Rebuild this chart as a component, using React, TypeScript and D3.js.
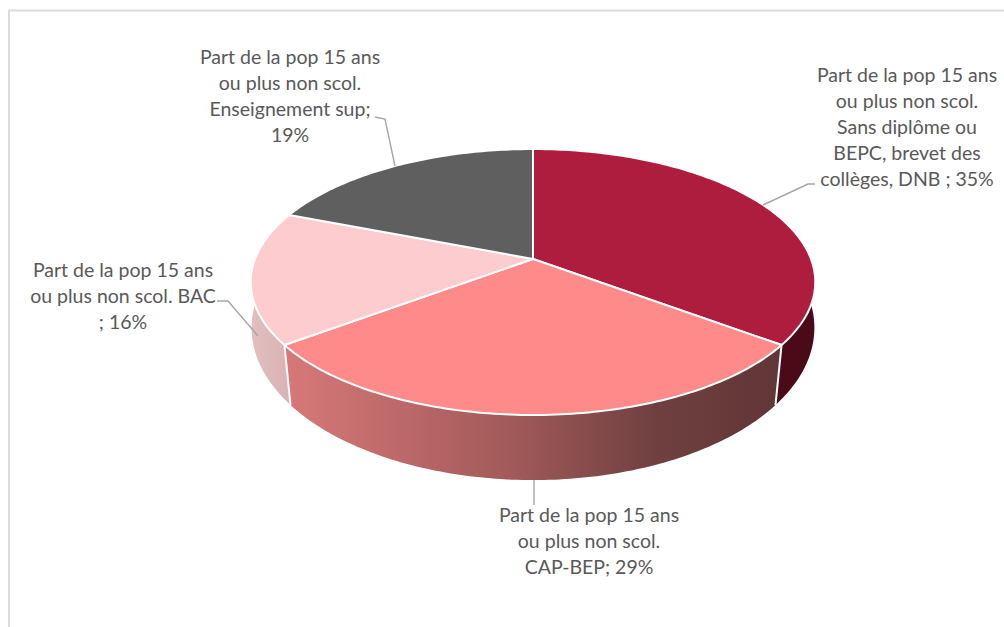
import React from "react";
import * as d3 from "d3";

const categories = ["Sans diplôme ou BEPC, brevet des collèges, DNB", "CAP-BEP", "BAC", "Enseignement sup"];
const values = [35.2, 29.6, 16.1, 19.1];
const topColors = ["#AE1C3E", "#FE8A8A", "#FDCCCE", "#5F5F5F"];
const labelLines = [
  ["Part de la pop 15 ans", "ou plus non scol.", "Sans diplôme ou", "BEPC, brevet des", "collèges, DNB ; 35%"],
  ["Part de la pop 15 ans", "ou plus non scol.", "CAP-BEP; 29%"],
  ["Part de la pop 15 ans", "ou plus non scol. BAC", "; 16%"],
  ["Part de la pop 15 ans", "ou plus non scol.", "Enseignement sup;", "19%"],
];
const labelAnchors = [
  { x: 907, y: 82 },
  { x: 589, y: 522 },
  { x: 123, y: 277 },
  { x: 290, y: 64 },
];
const leaders: [number, number][][] = [
  [[763, 205], [808, 184], [815, 184]],
  [[534, 480], [534, 505]],
  [[258, 336], [228, 301], [217, 301]],
  [[395, 166], [385, 119], [375, 117]],
];

const topRim = { cx: 533, cy: 259, a: 278, b: 129, k: 0.173 };
const lowRim = { cx: 533, cy: 308, a: 279, b: 149.7, k: 0.13 };
type Rim = typeof topRim;

const project = (r: Rim, t: number): [number, number] => {
  const u = Math.sin(t), v = Math.cos(t), w = 1 + r.k * v;
  return [r.cx + (r.a * u) / w, r.cy - (r.b * v) / w];
};
const samples = (t0: number, t1: number) => {
  const n = Math.max(2, Math.ceil(Math.abs(t1 - t0) * 60));
  return d3.range(n + 1).map((i) => t0 + ((t1 - t0) * i) / n);
};
const line = d3.line<[number, number]>();

const pie = d3.pie<number>().sort(null).value((d) => d)(values);
const WALL_START = (70 * Math.PI) / 180;
const WALL_END = (290 * Math.PI) / 180;

const FONT = "Lato, sans-serif";

export default function App() {
  return (
    <svg
      width={1004}
      height={627}
      style={{ position: "absolute", left: 0, top: 0, background: "#fff" }}
    >
      <defs>
        <linearGradient id="wall2" gradientUnits="userSpaceOnUse" x1={287} x2={778} y1={0} y2={0}>
          <stop offset="0" stopColor="#D77878" />
          <stop offset="0.45" stopColor="#A35A5A" />
          <stop offset="0.75" stopColor="#704040" />
          <stop offset="1" stopColor="#613636" />
        </linearGradient>
        <linearGradient id="wall3" gradientUnits="userSpaceOnUse" x1={253} x2={290} y1={0} y2={0}>
          <stop offset="0" stopColor="#E2BEBF" />
          <stop offset="1" stopColor="#D9B2B3" />
        </linearGradient>
      </defs>
      <path d="M9 627V10.5H1004" fill="none" stroke="#DCDCDC" strokeWidth={2} />

      {/* side walls */}
      {pie.map((s, i) => {
        const t0 = Math.max(s.startAngle, WALL_START);
        const t1 = Math.min(s.endAngle, WALL_END);
        if (t1 <= t0) return null;
        const ts = samples(t0, t1);
        const pts = [...ts.map((t) => project(topRim, t)), ...ts.slice().reverse().map((t) => project(lowRim, t))];
        const fill = i === 0 ? "#4A0A18" : i === 1 ? "url(#wall2)" : "url(#wall3)";
        return <path key={categories[i]} d={line(pts) + "Z"} fill={fill} />;
      })}
      {pie.slice(0, 2).map((s) => (
        <path
          key={s.endAngle}
          d={line([project(topRim, s.endAngle), project(lowRim, s.endAngle)]) as string}
          stroke="#fff"
          strokeWidth={2}
        />
      ))}

      {/* top faces */}
      {pie.map((s, i) => {
        const pts = [[topRim.cx, topRim.cy] as [number, number], ...samples(s.startAngle, s.endAngle).map((t) => project(topRim, t))];
        return <path key={i} d={line(pts) + "Z"} fill={topColors[i]} stroke="#fff" strokeWidth={2} strokeLinejoin="round" />;
      })}

      {/* leader lines */}
      {leaders.map((l, i) => (
        <path key={i} d={line(l) as string} fill="none" stroke="#A6A6A6" strokeWidth={1.4} />
      ))}

      {/* labels */}
      {labelLines.map((lines, i) => (
        <text key={i} textAnchor="middle" fontFamily={FONT} fontSize={19.5} fill="#595959">
          {lines.map((t, j) => (
            <tspan key={j} x={labelAnchors[i].x} y={labelAnchors[i].y + j * 26}>
              {t}
            </tspan>
          ))}
        </text>
      ))}
    </svg>
  );
}
